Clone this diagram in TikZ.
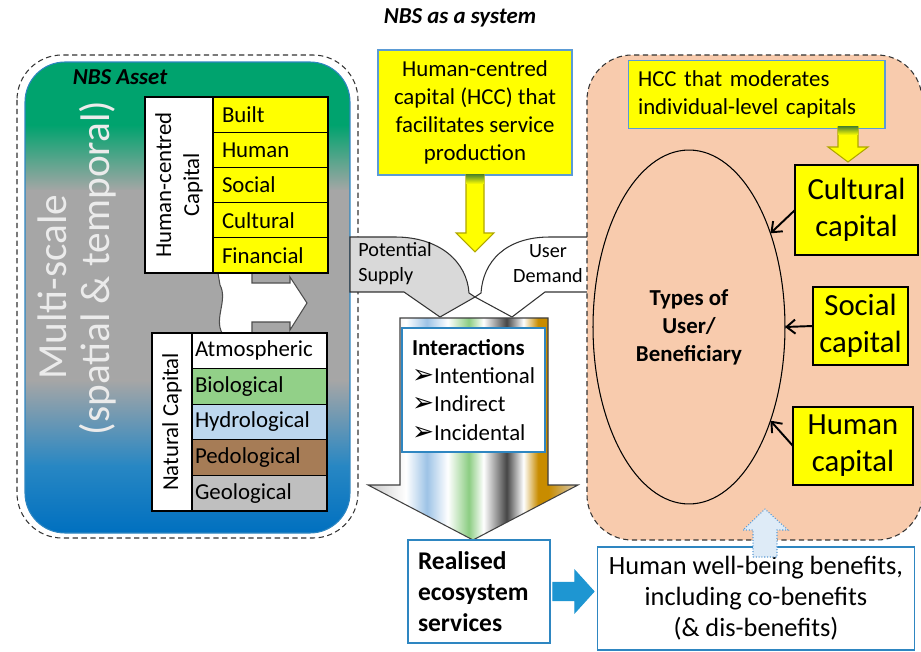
\documentclass[tikz,border=0pt]{standalone}
\usepackage{fontspec}
\setmainfont{Carlito}
\newfontfamily\symfont{DejaVu Sans}
\usetikzlibrary{shapes.geometric,arrows.meta}

\definecolor{capyellow}{RGB}{255,255,0}
\definecolor{frameblue}{RGB}{91,155,213}
\definecolor{boxblue}{RGB}{46,134,193}
\definecolor{salmon}{RGB}{248,203,173}
\definecolor{biogreen}{RGB}{146,208,136}
\definecolor{hydroblue}{RGB}{189,215,238}
\definecolor{pedobrown}{RGB}{166,124,86}
\definecolor{geogray}{RGB}{191,191,191}
\definecolor{assetgreen}{RGB}{0,163,110}
\definecolor{assetgray}{RGB}{166,166,166}
\definecolor{assetmid}{RGB}{40,135,195}
\definecolor{assetblue}{RGB}{0,112,192}
\definecolor{flowgray}{RGB}{200,200,200}
\definecolor{flowblue}{RGB}{157,195,230}
\definecolor{flowgreen}{RGB}{140,205,130}
\definecolor{flowdark}{RGB}{70,70,70}
\definecolor{floworange}{RGB}{200,140,0}
\definecolor{flowend}{RGB}{215,205,190}
\definecolor{rightblue}{RGB}{30,150,210}
\definecolor{paleblue}{RGB}{222,235,247}
\definecolor{stripegreen}{RGB}{90,140,40}
\definecolor{scaletext}{RGB}{235,235,235}
\definecolor{supplygray}{RGB}{217,217,217}

\pgfdeclarehorizontalshading{flowfill}{100bp}{color(0bp)=(flowgray); color(25bp)=(flowgray); color(34bp)=(white); color(39bp)=(flowblue); color(44bp)=(white); color(49bp)=(flowgreen); color(52.5bp)=(white); color(58bp)=(flowdark); color(62bp)=(white); color(65.5bp)=(floworange); color(68bp)=(floworange); color(75bp)=(flowend); color(100bp)=(flowend)}

\begin{document}
\begin{tikzpicture}[x=0.02cm,y=-0.02cm,inner sep=0pt,outer sep=0pt,line width=0.6pt,
font=\fontsize{13}{16}\selectfont,
capbox/.style={draw,fill=white,align=center},
hcell/.style={draw,fill=capyellow,minimum width=2.3cm,minimum height=0.704cm,inner sep=0.18cm,text width=1.94cm,align=left},
ncell/.style={draw,minimum width=2.7cm,minimum height=0.712cm,inner sep=0.06cm,text width=2.58cm,align=left},
hccbox/.style={draw=frameblue,fill=capyellow},
sbox/.style={draw=boxblue,fill=white},
bigcap/.style={draw,fill=capyellow,align=center,font=\fontsize{17.5}{21}\selectfont},
yarrow/.style={draw=olive!70!yellow,fill=capyellow},
capto/.style={-{Straight Barb[length=5pt,width=8pt]},line width=1.1pt},
dashframe/.style={dash pattern=on 3pt off 2pt,draw=black!80}]
\useasboundingbox (0,0) rectangle (921,652);
\newcommand\tick{{\symfont\bfseries\fontsize{15}{16}\selectfont ➢}}
\draw (460,18) node[font=\bfseries\itshape\fontsize{13}{15}\selectfont] (title) {NBS as a system};

% NBS asset side
\draw[dashframe,rounded corners=0.9cm] (17,55) rectangle (358,538);
\begin{scope}
\clip[rounded corners=0.8cm] (25,62) rectangle (350,533);
\fill[assetgreen] (25,62) rectangle (350,126);
\shade[top color=assetgreen,bottom color=assetgray] (25,125) rectangle (350,191);
\fill[assetgray] (25,190) rectangle (350,381);
\shade[top color=assetgray,bottom color=assetmid] (25,380) rectangle (350,466);
\shade[top color=assetmid,bottom color=assetblue] (25,465) rectangle (350,533);
\end{scope}
\draw[draw=boxblue,rounded corners=0.8cm] (25,62) rectangle (350,533);
\draw (120,77) node[font=\bfseries\itshape\fontsize{13}{15}\selectfont] (asset) {NBS Asset};
\draw (77,268) node[rotate=90,text=scaletext,align=center,font=\fontsize{23.5}{25}\selectfont] (scale) {Multi-scale\hspace*{22pt}\\(spatial \& temporal)};
\draw[fill=white,draw=black!70] (218,273) -- (252,273) -- (252,283) -- (290,283) -- (290,277) -- (307,303) -- (290,330) -- (290,322) -- (252,322) -- (252,333) -- (222,333)
  .. controls (214,318) and (228,300) .. (220,285) -- cycle;
\draw (179,185) node[capbox,rotate=90,minimum width=3.52cm,minimum height=1.36cm] (hcclab) {Human-centred\\Capital};
\foreach \lbl [count=\i] in {Built,Human,Social,Cultural,Financial}
  \draw (270.5,{97+35.2*(\i-0.5)}) node[hcell] (hc\i) {\lbl};
\draw (172,422) node[capbox,rotate=90,minimum width=3.56cm,minimum height=0.8cm] (natlab) {Natural Capital};
\foreach \lbl/\col [count=\i] in {Atmospheric/white,Biological/biogreen,Hydrological/hydroblue,Pedological/pedobrown,Geological/geogray}
  \draw (259.5,{333+35.6*(\i-0.5)}) node[ncell,fill=\col] (nc\i) {\lbl};

% service production
\draw (475,112.5) node[hccbox,minimum width=3.88cm,minimum height=2.5cm,align=center] (hccmid) {Human-centred\\capital (HCC) that\\facilitates service\\production};
\draw[yarrow] (hccmid.south) ++(-9,0) -- ++(18,0) -- ++(0,58) -- ++(10,0) -- ++(-19,19) -- ++(-19,-19) -- ++(10,0) -- cycle;
\shade[top color=stripegreen,bottom color=capyellow] (hccmid.south) ++(-9,0) rectangle ++(18,9);
\draw[fill=supplygray,draw=black!80] (350,237) -- (395,237) .. controls (440,237) and (467,262) .. (469,293) -- (475,297) -- (440,317) -- (404,292) -- (350,292) -- cycle;
\draw[fill=white,draw=black!80] (590,237) -- (550,237) .. controls (505,237) and (483,262) .. (481,293) -- (475,297) -- (512,317) -- (545,292) -- (590,292) -- cycle;
\draw (395,264) node[align=left,font=\fontsize{11.5}{14.2}\selectfont] (supply) {Potential\\Supply};
\draw (548,264) node[align=center,font=\fontsize{11.5}{14.2}\selectfont] (demand) {User\\Demand};
\draw[draw=black!75,shade,shading=flowfill] (400,318) -- (548,318) -- (548,485) -- (578,485) -- (473,540) -- (368,485) -- (400,485) -- cycle;
\draw (473.5,390) node[sbox,minimum width=2.86cm,minimum height=2.48cm,inner sep=0.2cm,text width=2.46cm,align=left] (inter)
  {\textbf{Interactions}\\\tick Intentional\\\tick Indirect\\\tick Incidental};
\draw (479,591.5) node[sbox,minimum width=2.84cm,minimum height=2.06cm,inner sep=0.2cm,text width=2.44cm,align=left,font=\bfseries\fontsize{14.5}{17.6}\selectfont] (real) {Realised\\ecosystem\\services};
\draw[draw=rightblue,fill=rightblue] (real.east) ++(3,-9) -- ++(22,0) -- ++(0,-12) -- ++(19,21) -- ++(-19,21) -- ++(0,-12) -- ++(-22,0) -- cycle;

% beneficiary side
\draw[dashframe,fill=salmon,rounded corners=0.9cm] (587,55) rectangle (922,540);
\draw (756.5,94.5) node[hccbox,minimum width=5.14cm,minimum height=1.3cm,inner sep=0.2cm,text width=4.74cm,align=left] (hccright) {HCC that moderates\\individual-level capitals};
\draw[yarrow] (838,127) -- (858,127) -- (858,147) -- (868,147) -- (848,162) -- (828,147) -- (838,147) -- cycle;
\shade[top color=stripegreen,bottom color=capyellow] (838,127) rectangle (858,135);
\draw (689,327) node[draw,ellipse,minimum width=3.84cm,minimum height=7.08cm,align=center,font=\bfseries\fontsize{13}{16}\selectfont] (user) {Types of\\User/\\Beneficiary};
\draw (856.5,210) node[bigcap,minimum width=2.46cm,minimum height=1.8cm] (cult) {Cultural\\capital};
\draw (860.5,326) node[bigcap,minimum width=1.9cm,minimum height=1.56cm] (soc) {Social\\capital};
\draw (853,446) node[bigcap,minimum width=2.4cm,minimum height=1.56cm] (hum) {Human\\capital};
\draw[capto] (cult.west) -- (user.49);
\draw[capto] (soc.west) -- (user.east);
\draw[capto] (hum.west) -- (user.-49);
\draw (756,598.5) node[sbox,minimum width=6.36cm,minimum height=2.06cm,align=center,font=\fontsize{15}{17.6}\selectfont] (wellb) {Human well-being benefits,\\including co-benefits\\(\& dis-benefits)};
\draw[draw=frameblue,fill=paleblue,densely dotted] (wellb.north) ++(-3,10) -- ++(24,0) -- ++(0,-27) -- ++(11,0) -- ++(-23,-21) -- ++(-22,21) -- ++(10,0) -- cycle;
\end{tikzpicture}
\end{document}
